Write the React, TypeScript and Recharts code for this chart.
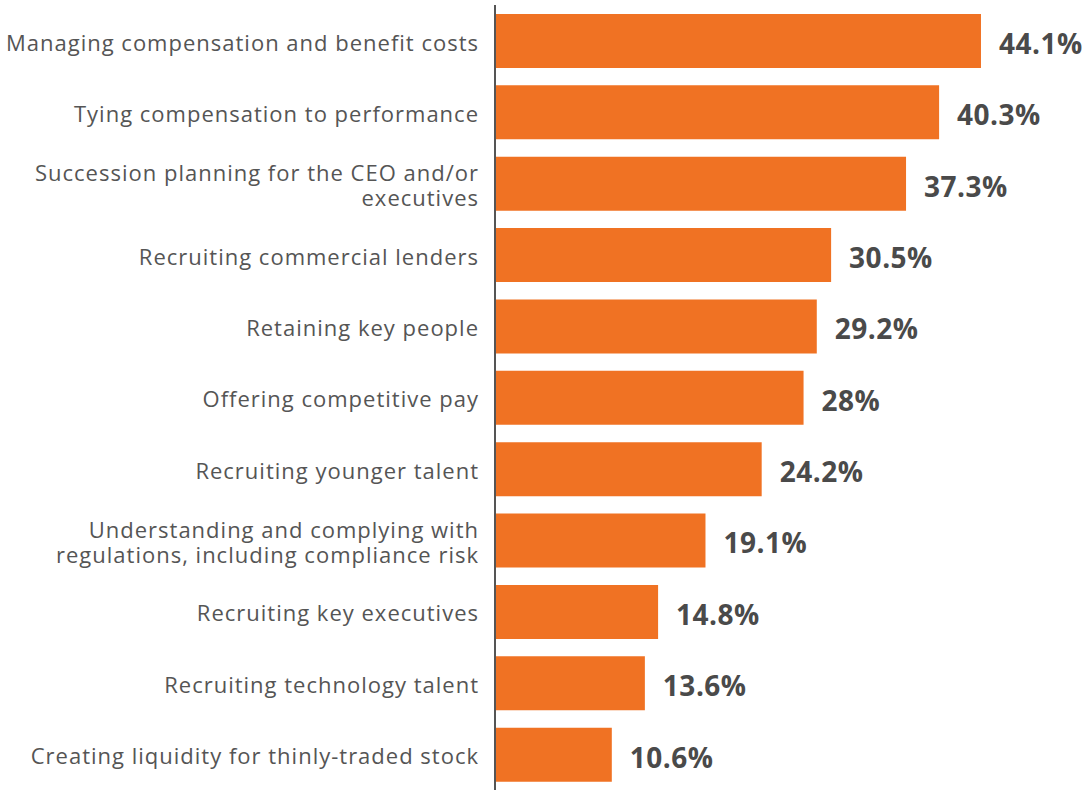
import { Bar, BarChart, LabelList, XAxis, YAxis } from "recharts";

const categories = [
  "Managing compensation and benefit costs",
  "Tying compensation to performance",
  "Succession planning for the CEO and/or\nexecutives",
  "Recruiting commercial lenders",
  "Retaining key people",
  "Offering competitive pay",
  "Recruiting younger talent",
  "Understanding and complying with\nregulations, including compliance risk",
  "Recruiting key executives",
  "Recruiting technology talent",
  "Creating liquidity for thinly-traded stock",
];

const values = [44.1, 40.3, 37.3, 30.5, 29.2, 28, 24.2, 19.1, 14.8, 13.6, 10.6];

const data = categories.map((name, i) => ({ name, value: values[i] }));

function CategoryTick({ x, y, payload }: any) {
  const lines = String(payload.value).split("\n");
  const lineHeight = 25;
  return (
    <text
      x={x - 8}
      y={y}
      textAnchor="end"
      fill="#555555"
      fontSize={22}
      fontFamily="'Open Sans', sans-serif"
      letterSpacing={1}
    >
      {lines.map((line, i) => (
        <tspan key={i} x={x - 8} y={y + (i - (lines.length - 1) / 2) * lineHeight} dy="0.45em">
          {line}
        </tspan>
      ))}
    </text>
  );
}

export default function App() {
  return (
    <div style={{ position: "absolute", left: 0, top: 0, background: "#fff" }}>
      <BarChart
        width={1089}
        height={791}
        data={data}
        layout="vertical"
        margin={{ top: 5, right: 43, bottom: 1, left: 0 }}
      >
        <XAxis type="number" domain={[0, 50]} hide />
        <YAxis
          type="category"
          dataKey="name"
          width={495}
          axisLine={{ stroke: "#555555", strokeWidth: 2 }}
          tickLine={false}
          tick={<CategoryTick />}
          interval={0}
        />
        <Bar dataKey="value" fill="#F07223" barSize={54} isAnimationActive={false}>
          <LabelList
            dataKey="value"
            position="right"
            offset={18}
            formatter={(v: any) => `${v}%`}
            fill="#4a4a4a"
            fontSize={28}
            fontWeight={700}
            fontFamily="'Open Sans', sans-serif"
            letterSpacing={0.5}
            dy={3}
          />
        </Bar>
      </BarChart>
    </div>
  );
}
